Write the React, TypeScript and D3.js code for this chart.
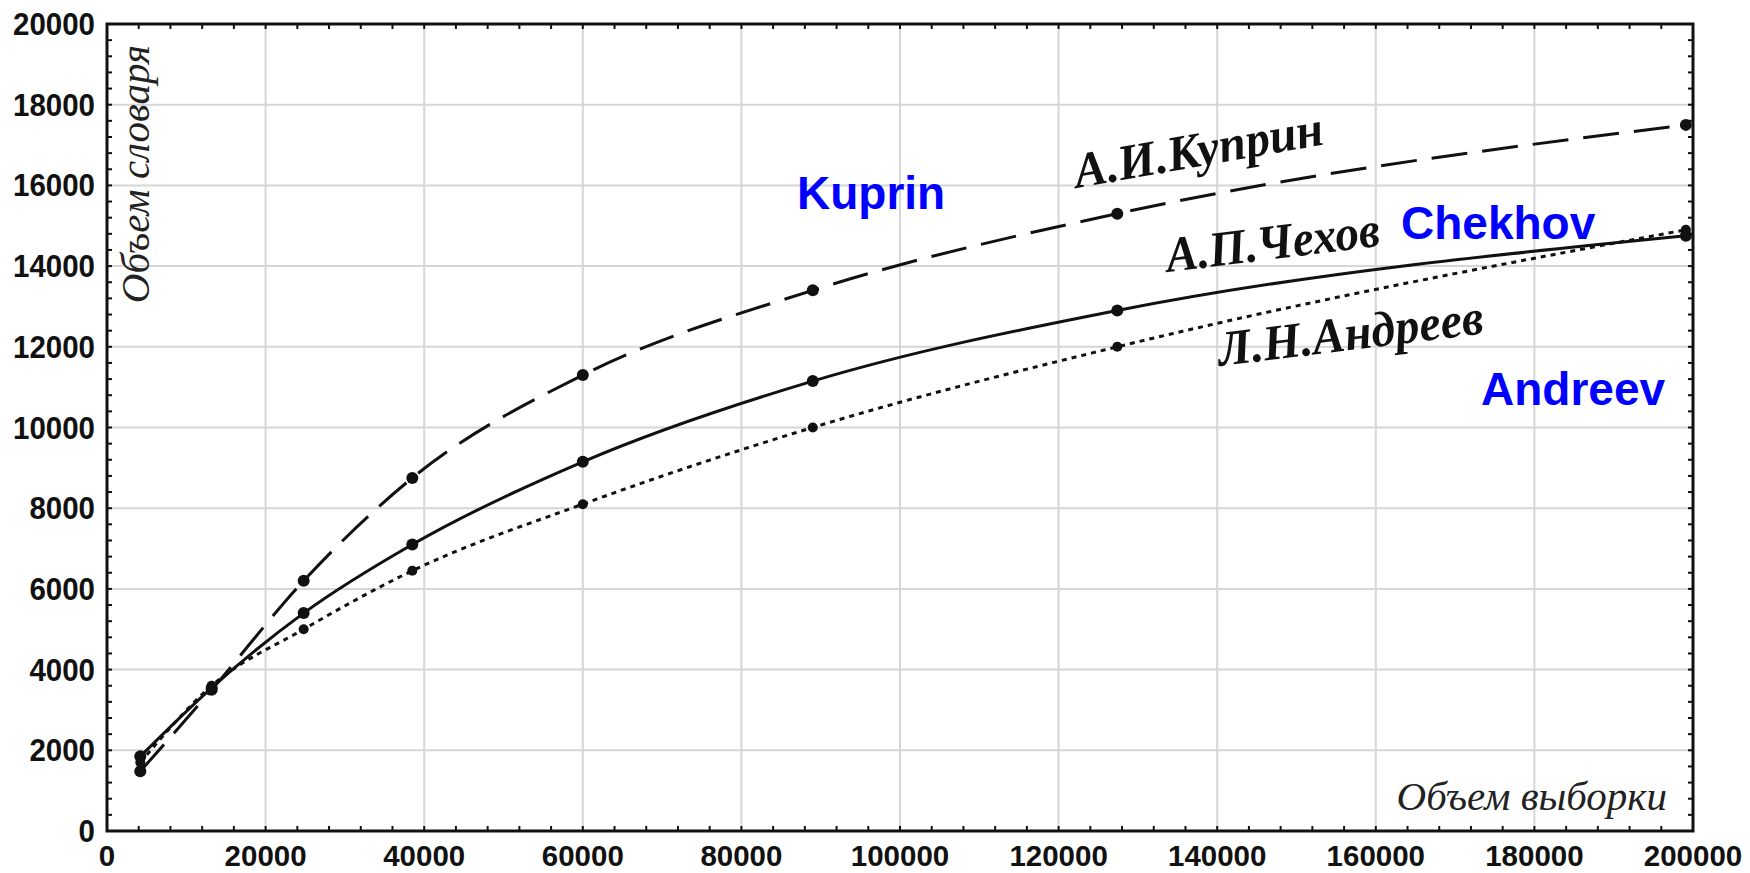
import React, { useRef, useEffect } from "react";
import * as d3 from "d3";

// объем выборки (x) and объем словаря (y)
const sampleSizes = [4200, 13200, 24800, 38500, 60000, 89000, 127400, 199100];
const kuprin = [1480, 3500, 6200, 8750, 11300, 13400, 15300, 17500];
const chekhov = [1850, 3550, 5400, 7100, 9150, 11150, 12900, 14750];
const andreev = [1700, 3600, 5000, 6450, 8100, 10000, 12000, 14900];

const xTicks = [0, 20000, 40000, 60000, 80000, 100000, 120000, 140000, 160000, 180000, 200000];
const yTicks = [0, 2000, 4000, 6000, 8000, 10000, 12000, 14000, 16000, 18000, 20000];

const seriesLabels = [
  { ru: "А.И.Куприн", en: "Kuprin" },
  { ru: "А.П.Чехов", en: "Chekhov" },
  { ru: "Л.Н.Андреев", en: "Andreev" },
];

function App() {
  const ref = useRef<SVGSVGElement>(null);

  useEffect(() => {
    document.body.style.margin = "0";
    document.body.style.overflow = "hidden";

    const W = 1750;
    const H = 873;
    const margin = { top: 24, right: 57, bottom: 42, left: 107 };
    const width = W - margin.left - margin.right;
    const height = H - margin.top - margin.bottom;

    const root = d3.select(ref.current);
    root.selectAll("*").remove();
    root.attr("width", W).attr("height", H);

    const svg = root.append("g").attr("transform", `translate(${margin.left},${margin.top})`);

    const x = d3.scaleLinear().domain([0, 200000]).range([0, width]);
    const y = d3.scaleLinear().domain([0, 20000]).range([height, 0]);

    // grid
    svg
      .selectAll(".gx")
      .data(xTicks.slice(1, -1))
      .enter()
      .append("line")
      .attr("x1", (d) => x(d))
      .attr("x2", (d) => x(d))
      .attr("y1", 0)
      .attr("y2", height)
      .style("stroke", "#d6d6d6")
      .style("stroke-width", 2);
    svg
      .selectAll(".gy")
      .data(yTicks.slice(1, -1))
      .enter()
      .append("line")
      .attr("x1", 0)
      .attr("x2", width)
      .attr("y1", (d) => y(d))
      .attr("y2", (d) => y(d))
      .style("stroke", "#d6d6d6")
      .style("stroke-width", 2);

    // minor ticks on all sides (inside)
    const xMinor = d3.range(0, 200001, 4000);
    const yMinor = d3.range(0, 20001, 400);
    const tickLen = 5;
    const ticks = svg.append("g").style("stroke", "#111").style("stroke-width", 2);
    xMinor.forEach((v) => {
      ticks.append("line").attr("x1", x(v)).attr("x2", x(v)).attr("y1", height).attr("y2", height - tickLen);
      ticks.append("line").attr("x1", x(v)).attr("x2", x(v)).attr("y1", 0).attr("y2", tickLen);
    });
    yMinor.forEach((v) => {
      ticks.append("line").attr("x1", 0).attr("x2", tickLen).attr("y1", y(v)).attr("y2", y(v));
      ticks.append("line").attr("x1", width).attr("x2", width - tickLen).attr("y1", y(v)).attr("y2", y(v));
    });

    // frame
    svg
      .append("rect")
      .attr("x", 0)
      .attr("y", 0)
      .attr("width", width)
      .attr("height", height)
      .style("fill", "none")
      .style("stroke", "#111")
      .style("stroke-width", 3);

    // tick labels (narrow bold digits)
    const tickFont = "'Liberation Sans', Arial, sans-serif";
    const digitW = 16.4;
    svg
      .selectAll(".xl")
      .data(xTicks)
      .enter()
      .append("text")
      .attr("x", (d) => x(d))
      .attr("y", height + 35)
      .attr("text-anchor", "middle")
      .attr("textLength", (d) => String(d).length * digitW)
      .attr("lengthAdjust", "spacingAndGlyphs")
      .style("font-family", tickFont)
      .style("font-weight", "bold")
      .style("font-size", "30px")
      .style("fill", "#111")
      .text((d) => d);
    svg
      .selectAll(".yl")
      .data(yTicks)
      .enter()
      .append("text")
      .attr("x", -12)
      .attr("y", (d) => y(d) + 11)
      .attr("text-anchor", "end")
      .attr("textLength", (d) => String(d).length * digitW)
      .attr("lengthAdjust", "spacingAndGlyphs")
      .style("font-family", tickFont)
      .style("font-weight", "bold")
      .style("font-size", "31px")
      .style("fill", "#111")
      .text((d) => d);

    // axis titles
    const serif = "'Liberation Serif', 'Times New Roman', serif";
    svg
      .append("text")
      .attr("transform", `translate(${149 - margin.left},${45 - margin.top}) rotate(-90)`)
      .attr("text-anchor", "end")
      .style("font-family", serif)
      .style("font-style", "italic")
      .style("font-size", "41px")
      .style("fill", "#222")
      .text("Объем словаря");
    svg
      .append("text")
      .attr("x", 1667 - margin.left)
      .attr("y", 810 - margin.top)
      .attr("text-anchor", "end")
      .style("font-family", serif)
      .style("font-style", "italic")
      .style("font-size", "41px")
      .style("fill", "#222")
      .text("Объем выборки");

    // curves
    const series = [
      { values: kuprin, dash: "36 15", r: 6 },
      { values: chekhov, dash: null, r: 6 },
      { values: andreev, dash: "5 5", r: 5 },
    ];
    const line = d3
      .line<number>()
      .x((d, i) => x(sampleSizes[i]))
      .y((d) => y(d))
      .curve(d3.curveMonotoneX);

    series.forEach((s) => {
      svg
        .append("path")
        .attr("d", line(s.values))
        .style("fill", "none")
        .style("stroke", "#111")
        .style("stroke-width", 3)
        .style("stroke-dasharray", s.dash ? s.dash : null);
      svg
        .selectAll(null)
        .data(s.values)
        .enter()
        .append("circle")
        .attr("cx", (d, i) => x(sampleSizes[i]))
        .attr("cy", (d) => y(d))
        .attr("r", s.r)
        .style("fill", "#111");
    });

    // russian curve labels (slanted, bold italic, condensed)
    const ruPos = [
      { x: 1077, y: 188, angle: -10, len: 252 },
      { x: 1168, y: 272, angle: -7, len: 215 },
      { x: 1220, y: 366, angle: -7, len: 267 },
    ];
    seriesLabels.forEach((l, i) => {
      const p = ruPos[i];
      svg
        .append("text")
        .attr("transform", `translate(${p.x - margin.left},${p.y - margin.top}) rotate(${p.angle})`)
        .attr("textLength", p.len)
        .attr("lengthAdjust", "spacingAndGlyphs")
        .style("font-family", serif)
        .style("font-style", "italic")
        .style("font-weight", "bold")
        .style("font-size", "50px")
        .style("fill", "#111")
        .text(l.ru);
    });

    // english labels in blue
    const enPos = [
      { x: 797, y: 209 },
      { x: 1401, y: 239 },
      { x: 1481, y: 405 },
    ];
    seriesLabels.forEach((l, i) => {
      svg
        .append("text")
        .attr("x", enPos[i].x - margin.left)
        .attr("y", enPos[i].y - margin.top)
        .style("font-family", tickFont)
        .style("font-weight", "bold")
        .style("font-size", "46px")
        .style("fill", "#0000ff")
        .text(l.en);
    });
  }, []);

  return (
    <div style={{ position: "absolute", left: 0, top: 0 }}>
      <svg ref={ref} style={{ display: "block", background: "#fff" }}></svg>
    </div>
  );
}

export default App;
